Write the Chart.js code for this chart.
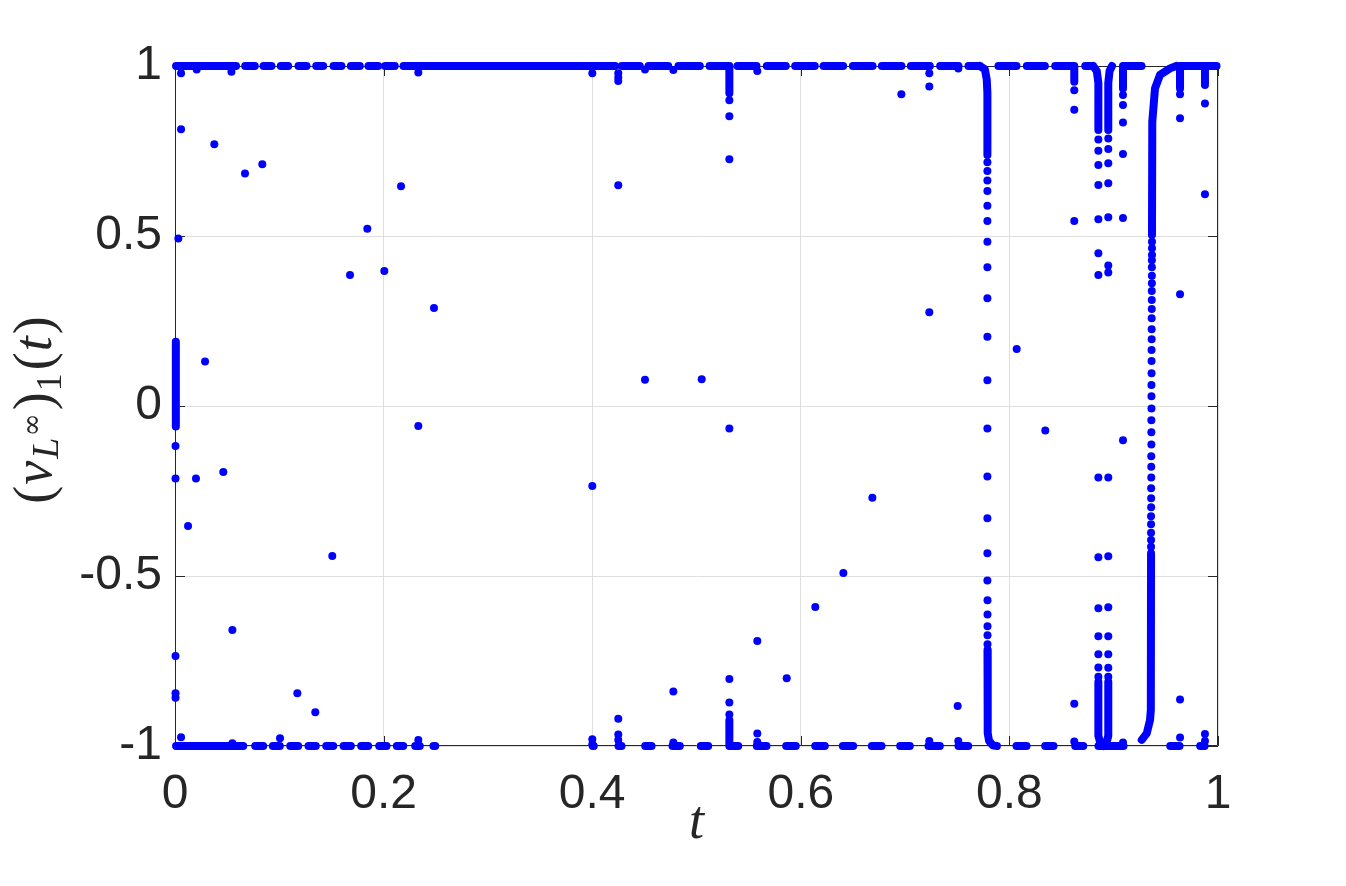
<!DOCTYPE html>
<html>
<head>
<meta charset="utf-8">
<script src="https://cdn.jsdelivr.net/npm/chart.js@4.4.0/dist/chart.umd.min.js"></script>
<style>
	html, body { margin: 0; padding: 0; background: #fff; }
	#wrap { width: 1346px; height: 886px; }
</style>
</head>
<body>
<div id="wrap"><canvas id="chart_v" width="1346" height="886"></canvas></div>
<script>
'use strict';

// axis ticks
const xTicks = [0, 0.2, 0.4, 0.6, 0.8, 1];
const yTicks = [-1, -0.5, 0, 0.5, 1];

// runs of closely packed samples lying on v = 1 and v = -1, [t start, t end]
const topRuns = [
	[0.001, 0.0585], [0.0673, 0.0765], [0.0849, 0.0925], [0.1014, 0.1085],
	[0.1184, 0.1261], [0.1354, 0.1421], [0.1520, 0.1596], [0.1686, 0.1772],
	[0.1855, 0.1948], [0.2015, 0.2107], [0.2191, 0.4220], [0.4284, 0.4456],
	[0.4540, 0.4729], [0.4827, 0.5032], [0.5125, 0.5304], [0.5393, 0.5575],
	[0.5674, 0.5856], [0.5946, 0.6134], [0.6218, 0.6406], [0.6499, 0.6688],
	[0.6777, 0.6965], [0.7055, 0.7237], [0.7336, 0.7512], [0.7608, 0.7718],
	[0.7895, 0.8068], [0.8167, 0.8340], [0.8439, 0.8612], [0.8727, 0.8803],
	[0.9094, 0.9267], [0.9638, 0.9986],
];
const bottomRuns = [
	[0.001, 0.0654], [0.0769, 0.0846], [0.0938, 0.1005], [0.1105, 0.1181],
	[0.1280, 0.1350], [0.1450, 0.1517], [0.1616, 0.1686], [0.1785, 0.1852],
	[0.1958, 0.2028], [0.2127, 0.2188], [0.2303, 0.2347], [0.2478, 0.2495],
	[0.4005, 0.4015], [0.4252, 0.4281], [0.4508, 0.4569], [0.4770, 0.4840],
	[0.5041, 0.5112], [0.5316, 0.5400], [0.5578, 0.5671], [0.5860, 0.5952],
	[0.6138, 0.6230], [0.6403, 0.6502], [0.6681, 0.6774], [0.6953, 0.7045],
	[0.7224, 0.7333], [0.7512, 0.7605], [0.8068, 0.8164], [0.8343, 0.8423],
	[0.8631, 0.8708], [0.8854, 0.9094], [0.9542, 0.9631], [0.9829, 0.9871],
];

// dense vertical stretches (switching fronts), [t, v]
const front0 = [[0.0008, 0.189], [0.0008, -0.06]];
const front53top = [[0.5315, 1], [0.5315, 0.92]];
const front53bot = [[0.5315, -0.924], [0.5315, -1]];
const frontAtop = [[0.7718, 1], [0.7765, 0.99], [0.7783, 0.96], [0.7789, 0.92], [0.7789, 0.738]];
const frontAbot = [[0.7790, -0.718], [0.7792, -0.962], [0.7805, -0.985], [0.7840, -0.998], [0.7880, -1]];
const front86 = [[0.8622, 1], [0.8622, 0.954]];
const frontBtop = [[0.8803, 1], [0.8838, 0.985], [0.8853, 0.95], [0.8853, 0.812]];
const frontBbot = [[0.8853, -0.811], [0.8853, -0.97], [0.8875, -0.995], [0.8900, -1]];
const frontCtop = [[0.8984, 1], [0.8960, 0.985], [0.8948, 0.95], [0.8948, 0.812]];
const frontCbot = [[0.8948, -0.811], [0.8948, -0.97], [0.8928, -0.995], [0.8905, -1]];
const frontD = [[0.9089, 1], [0.9089, 0.934]];
const frontEbot = [[0.9269, -0.982], [0.9317, -0.963], [0.9348, -0.924], [0.9356, -0.894], [0.9358, -0.433]];
const frontEtop = [[0.9367, 0.503], [0.9370, 0.836], [0.9396, 0.934], [0.9444, 0.974], [0.9540, 0.993], [0.9600, 1]];
const frontF = [[0.9636, 1], [0.9636, 0.934]];
const frontG = [[0.9875, 1], [0.9875, 0.944]];

// single samples
const dotT = [
	0.0058, 0.0208, 0.0541, 0.0058, 0.0377, 0.0671, 0.0837, 0.0032, 0.0288,
	0.0005, 0.0005, 0.0201, 0.0463, 0.0125, 0.0550, 0.0005, 0.0005, 0.0005,
	0.1173, 0.0058, 0.0550, 0.1007, 0.1345, 0.1508, 0.1678, 0.1844, 0.2007,
	0.2167, 0.2483, 0.2333, 0.2333, 0.2333,
	0.4001, 0.4001, 0.4001, 0.4001,
	0.4250, 0.4250, 0.4250, 0.4250, 0.4250, 0.4250, 0.4250,
	0.4506, 0.4506, 0.4778, 0.4778, 0.4778, 0.5050,
	0.5315, 0.5315, 0.5315, 0.5315, 0.5315, 0.5315, 0.5315,
	0.5583, 0.5583, 0.5583, 0.5583,
	0.5865, 0.6139, 0.6408, 0.6686, 0.6964,
	0.7232, 0.7232, 0.7232, 0.7232,
	0.7504, 0.7510, 0.7510,
	0.7789, 0.7789, 0.7789, 0.7789, 0.7789, 0.7789, 0.7789, 0.7789, 0.7789, 0.7789, 0.7789,
	0.7789, 0.7789, 0.7789, 0.7789, 0.7789, 0.7790, 0.7790, 0.7790, 0.7790, 0.7790,
	0.8070, 0.8344,
	0.8622, 0.8622, 0.8622, 0.8622, 0.8622,
	0.8853, 0.8853, 0.8853, 0.8853, 0.8853, 0.8853, 0.8853,
	0.8853, 0.8853, 0.8853, 0.8853, 0.8853, 0.8853, 0.8853,
	0.8948, 0.8948, 0.8948, 0.8948, 0.8948, 0.8948, 0.8948,
	0.8948, 0.8948, 0.8948, 0.8948, 0.8948, 0.8948, 0.8948,
	0.9089, 0.9089, 0.9089, 0.9089, 0.9089, 0.9089, 0.9089,
	0.9358, 0.9358, 0.9358, 0.9358, 0.9358, 0.9359, 0.9359, 0.9359, 0.9360, 0.9360, 0.9360,
	0.9361, 0.9361, 0.9361, 0.9362, 0.9362, 0.9362, 0.9363, 0.9363, 0.9363, 0.9364, 0.9364,
	0.9364, 0.9365, 0.9365, 0.9365, 0.9366, 0.9366, 0.9366, 0.9366, 0.9367, 0.9367, 0.9367,
	0.9636, 0.9636, 0.9636, 0.9636, 0.9636,
	0.9875, 0.9875, 0.9875, 0.9875,
];
const dotV = [
	0.979, 0.990, 0.983, 0.814, 0.770, 0.684, 0.711, 0.493, 0.131,
	-0.118, -0.213, -0.213, -0.194, -0.353, -0.659, -0.735, -0.845, -0.858,
	-0.845, -0.974, -0.992, -0.977, -0.901, -0.441, 0.385, 0.521, 0.397,
	0.646, 0.288, -0.059, 0.981, -0.982,
	0.979, -0.235, -0.980, -0.995,
	0.979, 0.966, 0.956, 0.649, -0.920, -0.966, -0.982,
	0.077, 0.990, 0.988, -0.840, -0.990, 0.079,
	0.899, 0.852, 0.726, -0.066, -0.803, -0.872, -0.907,
	0.985, -0.691, -0.963, -0.988,
	-0.801, -0.591, -0.491, -0.270, 0.917,
	0.940, 0.979, 0.276, -0.985,
	-0.882, 0.993, -0.985,
	0.717, 0.691, 0.663, 0.632, 0.589, 0.544, 0.483, 0.408, 0.317, 0.204, 0.076,
	-0.066, -0.207, -0.330, -0.433, -0.513, -0.571, -0.613, -0.648, -0.674, -0.701,
	0.168, -0.072,
	0.929, 0.871, 0.544, -0.876, -0.987,
	0.784, 0.751, 0.709, 0.650, 0.549, 0.449, 0.385,
	-0.210, -0.445, -0.595, -0.677, -0.730, -0.769, -0.796,
	0.787, 0.756, 0.714, 0.655, 0.555, 0.413, 0.393,
	-0.210, -0.442, -0.592, -0.677, -0.730, -0.770, -0.796,
	0.915, 0.885, 0.834, 0.741, 0.553, -0.101, -0.990,
	-0.414, -0.394, -0.373, -0.348, -0.324, -0.298, -0.271, -0.242, -0.210, -0.179, -0.148,
	-0.113, -0.077, -0.042, -0.007, 0.029, 0.062, 0.096, 0.132, 0.165, 0.196, 0.226,
	0.258, 0.285, 0.312, 0.338, 0.361, 0.383, 0.408, 0.429, 0.444, 0.464, 0.483,
	0.917, 0.846, 0.329, -0.863, -0.975,
	0.890, 0.623, -0.965, -0.985,
];

const BLUE = '#0000ff';
const INK = '#262626';

function runsToPoints(runs, v) {
	let pts = [];
	runs.forEach(([a, b]) => {
		pts.push({x: a, y: v}, {x: b, y: v}, {x: b, y: null});
	});
	return pts;
}

function pathsToPoints(paths) {
	let pts = [];
	paths.forEach(path => {
		path.forEach(([t, v]) => pts.push({x: t, y: v}));
		pts.push({x: path[path.length - 1][0], y: null});
	});
	return pts;
}

let densePoints = runsToPoints(topRuns, 1)
	.concat(runsToPoints(bottomRuns, -1))
	.concat(pathsToPoints([
		front0, front53top, front53bot, frontAtop, frontAbot, front86,
		frontBtop, frontBbot, frontCtop, frontCbot, frontD,
		frontEbot, frontEtop, frontF, frontG,
	]));

let dotPoints = dotT.map((t, i) => ({x: t, y: dotV[i]}));

// box with inward tick marks, drawn under the markers
const framePlugin = {
	id: 'frame',
	beforeDatasetsDraw(chart) {
		let {ctx, chartArea: a, scales: {x, y}} = chart;
		ctx.save();
		ctx.strokeStyle = INK;
		ctx.lineWidth = 1;
		ctx.beginPath();
		ctx.rect(a.left + 0.5, a.top + 0.5, a.right - a.left - 1, a.bottom - a.top - 1);
		xTicks.forEach(v => {
			let px = Math.round(x.getPixelForValue(v)) + 0.5;
			ctx.moveTo(px, a.bottom);
			ctx.lineTo(px, a.bottom - 10);
			ctx.moveTo(px, a.top);
			ctx.lineTo(px, a.top + 10);
		});
		yTicks.forEach(v => {
			let py = Math.round(y.getPixelForValue(v)) + 0.5;
			ctx.moveTo(a.left, py);
			ctx.lineTo(a.left + 10, py);
			ctx.moveTo(a.right, py);
			ctx.lineTo(a.right - 10, py);
		});
		ctx.stroke();
		ctx.restore();
	},
};

// axis titles in LaTeX-like style
const titlePlugin = {
	id: 'titles',
	afterDraw(chart) {
		let {ctx, chartArea: a} = chart;
		ctx.save();
		ctx.fillStyle = INK;
		ctx.textBaseline = 'alphabetic';

		ctx.font = 'italic 54px "Liberation Serif"';
		ctx.textAlign = 'center';
		ctx.fillText('t', (a.left + a.right) / 2, 838);

		let parts = [
			{text: '(', font: '54px "Liberation Serif"', shift: 0, gap: 0},
			{text: 'v', font: 'italic 54px "Liberation Serif"', shift: 0, gap: 1},
			{text: 'L', font: 'italic 38px "Liberation Serif"', shift: 7, gap: 2},
			{text: '\u221e', font: '28px "DejaVu Serif"', shift: -10, gap: 1},
			{text: ')', font: '54px "Liberation Serif"', shift: 0, gap: 3},
			{text: '1', font: '36px "Liberation Serif"', shift: 10, gap: 1},
			{text: '(', font: '54px "Liberation Serif"', shift: 0, gap: 3},
			{text: 't', font: 'italic 54px "Liberation Serif"', shift: 0, gap: 1},
			{text: ')', font: '54px "Liberation Serif"', shift: 0, gap: 2},
		];
		let total = 0;
		parts.forEach(p => {
			ctx.font = p.font;
			p.w = ctx.measureText(p.text).width;
			total += p.gap + p.w;
		});
		ctx.translate(51, (a.top + a.bottom) / 2 + 4);
		ctx.rotate(-Math.PI / 2);
		ctx.textAlign = 'left';
		let pos = -total / 2;
		parts.forEach(p => {
			pos += p.gap;
			ctx.font = p.font;
			ctx.fillText(p.text, pos, p.shift);
			pos += p.w;
		});
		ctx.restore();
	},
};

let tickFont = {family: '"Liberation Sans", Arial, sans-serif', size: 48};
let tickText = v => String(v);

new Chart(document.getElementById('chart_v').getContext('2d'), {
	type: 'line',
	data: {
		datasets: [{
			data: densePoints,
			borderColor: BLUE,
			borderWidth: 8,
			borderCapStyle: 'round',
			borderJoinStyle: 'round',
			pointRadius: 0,
			tension: 0,
			spanGaps: false,
			clip: false,
		}, {
			data: dotPoints,
			showLine: false,
			pointRadius: 4,
			pointBackgroundColor: BLUE,
			pointBorderWidth: 0,
			clip: false,
		}],
	},
	options: {
		responsive: false,
		animation: false,
		devicePixelRatio: 1,
		events: [],
		layout: {padding: {left: 0, top: 66, right: 128, bottom: 0}},
		plugins: {legend: {display: false}, tooltip: {enabled: false}},
		scales: {
			x: {
				type: 'linear',
				min: 0,
				max: 1,
				afterBuildTicks: s => { s.ticks = xTicks.map(v => ({value: v})); },
				afterFit: s => { s.height = 140; },
				grid: {color: '#dedede', drawTicks: false},
				border: {display: false},
				ticks: {color: INK, font: tickFont, padding: 20, maxRotation: 0, callback: tickText},
			},
			y: {
				type: 'linear',
				min: -1,
				max: 1,
				afterBuildTicks: s => { s.ticks = yTicks.map(v => ({value: v})); },
				afterFit: s => { s.width = 175; },
				grid: {color: '#dedede', drawTicks: false},
				border: {display: false},
				ticks: {color: INK, font: tickFont, padding: 13, callback: tickText},
			},
		},
	},
	plugins: [framePlugin, titlePlugin],
});
</script>
</body>
</html>
